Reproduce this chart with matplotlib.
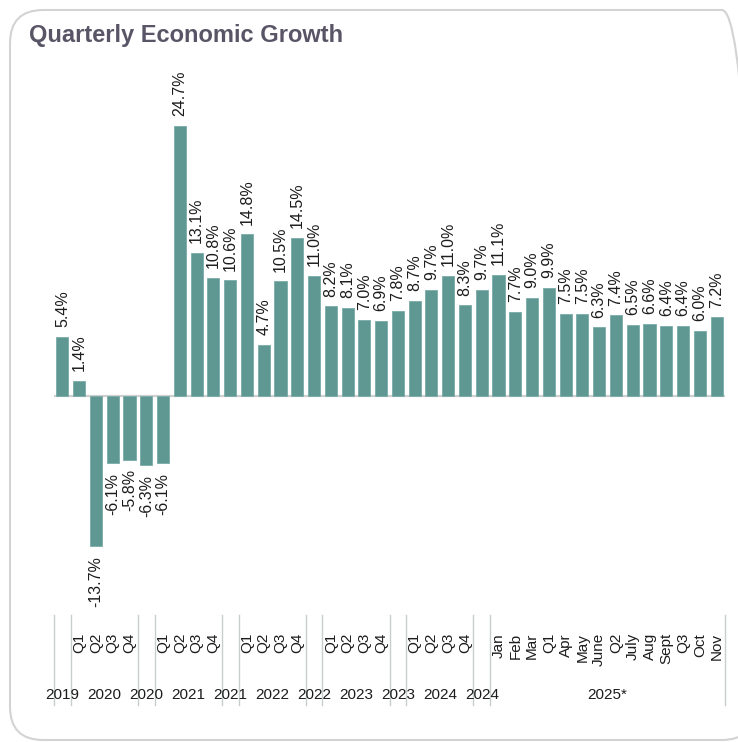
import matplotlib
matplotlib.use("Agg")
import matplotlib.pyplot as plt
import matplotlib.transforms as mtransforms
from matplotlib.patches import FancyBboxPatch
import numpy as np

plt.rcParams['font.family'] = ['Liberation Sans', 'DejaVu Sans']

# データ
values = [5.4,
          1.4, -13.7, -6.1, -5.8, -6.3,
          -6.1, 24.7, 13.1, 10.8, 10.6,
          14.8, 4.7, 10.5, 14.5, 11.0,
          8.2, 8.1, 7.0, 6.9, 7.8,
          8.7, 9.7, 11.0, 8.3, 9.7,
          11.1, 7.7, 9.0, 9.9, 7.5, 7.5, 6.3, 7.4, 6.5, 6.6, 6.4, 6.4, 6.0, 7.2]
sub_labels = ["",
              "Q1", "Q2", "Q3", "Q4", "",
              "Q1", "Q2", "Q3", "Q4", "",
              "Q1", "Q2", "Q3", "Q4", "",
              "Q1", "Q2", "Q3", "Q4", "",
              "Q1", "Q2", "Q3", "Q4", "",
              "Jan", "Feb", "Mar", "Q1", "Apr", "May", "June", "Q2",
              "July", "Aug", "Sept", "Q3", "Oct", "Nov"]
group_labels = ["2019", "2020", "2020", "2021", "2021", "2022", "2022",
                "2023", "2023", "2024", "2024", "2025*"]
group_sizes = [1, 4, 1, 4, 1, 4, 1, 4, 1, 4, 1, 14]

bar_color = '#5f9793'
text_color = '#1c1c1c'

W, H = 738, 742
fig = plt.figure(figsize=(W / 100, H / 100), dpi=100)

# カード枠
card = FancyBboxPatch((10 / W, 1 - 740 / H), 745 / W, 730 / H,
                      boxstyle="round,pad=0,rounding_size=0.045",
                      transform=fig.transFigure, facecolor='none',
                      edgecolor='#d3d3d3', linewidth=1.5, zorder=-1)
fig.patches.append(card)

ax = fig.add_axes([54 / W, 1 - 615 / H, 671 / W, 547 / H])
ax.set_facecolor('none')

x = np.arange(len(values))
ax.bar(x, values, width=0.72, color=bar_color, edgecolor='#7aaba7', linewidth=0.6, zorder=2)
ax.axhline(0, color='#d0d0d0', linewidth=1.6, zorder=1)

ax.set_xlim(-0.5, len(values) - 0.5)
ax.set_ylim(-20, 30)
for s in ax.spines.values():
    s.set_visible(False)
ax.set_xticks([])
ax.set_yticks([])

# 値ラベル
for i, v in enumerate(values):
    ax.annotate(f"{v:.1f}%", (i, v), xytext=(0, 7 if v >= 0 else -7),
                textcoords='offset points', rotation=90, ha='center',
                va='bottom' if v >= 0 else 'top', fontsize=11.5, color=text_color)

trans = mtransforms.blended_transform_factory(ax.transData, ax.transAxes)

# 下段ラベル（四半期・月）
for i, lab in enumerate(sub_labels):
    if lab:
        ax.text(i, -0.033, lab, transform=trans, rotation=90, ha='center',
                va='top', fontsize=11, color=text_color)

# 年ラベルと区切り線
edges = np.concatenate([[0], np.cumsum(group_sizes)]) - 0.5
for e in edges:
    ax.plot([e, e], [0, -0.165], transform=trans, color='#c8cdd0',
            linewidth=1.0, clip_on=False)
for k, lab in enumerate(group_labels):
    c = (edges[k] + edges[k + 1]) / 2
    ax.text(c, -0.146, lab, transform=trans, ha='center', va='center',
            fontsize=11, color=text_color)

fig.text(29 / W, 1 - 24 / H, "Quarterly Economic Growth", fontsize=17,
         fontweight='bold', color='#5a5566', ha='left', va='top')

fig.savefig("out.png", dpi=100)
